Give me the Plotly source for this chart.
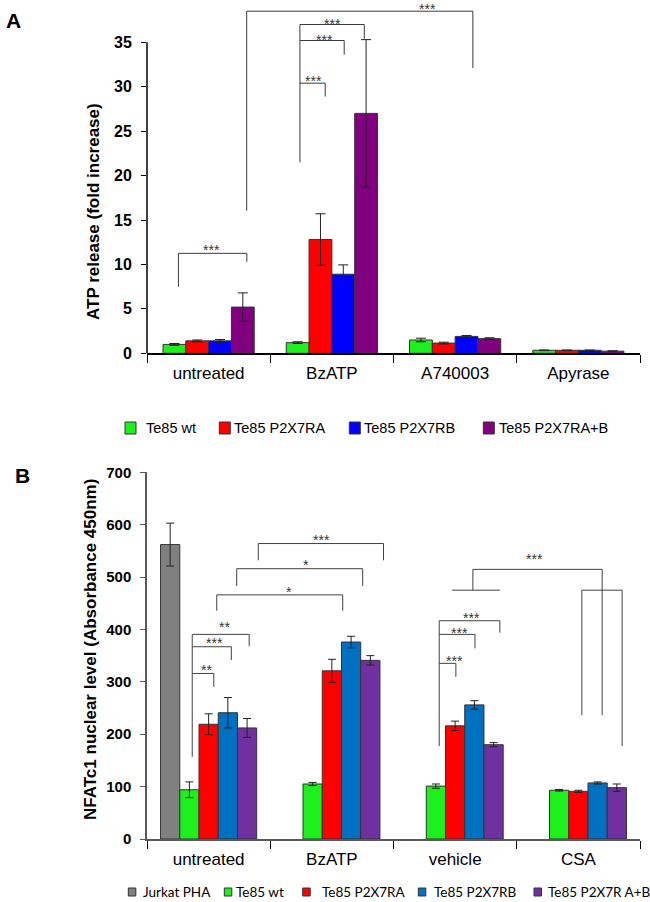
import plotly.graph_objects as go

# ---------------- data: panel A ----------------
cats_a = ["untreated", "BzATP", "A740003", "Apyrase"]
names_a = ["Te85 wt", "Te85 P2X7RA", "Te85 P2X7RB", "Te85 P2X7RA+B"]
wt_a = [1.0, 1.2, 1.5, 0.34]
wt_a_err = [0.1, 0.1, 0.2, 0.03]
ra_a = [1.4, 12.8, 1.15, 0.34]
ra_a_err = [0.1, 2.9, 0.1, 0.03]
rb_a = [1.4, 8.9, 1.9, 0.34]
rb_a_err = [0.15, 1.05, 0.1, 0.03]
rab_a = [5.2, 27.0, 1.65, 0.24]
rab_a_err = [1.6, 8.3, 0.1, 0.05]
ticks_a = [0, 5, 10, 15, 20, 25, 30, 35]

# ---------------- data: panel B ----------------
cats_b = ["untreated", "BzATP", "vehicle", "CSA"]
names_b = ["Jurkat PHA", "Te85 wt", "Te85 P2X7RA", "Te85 P2X7RB", "Te85 P2X7R A+B"]
jurkat_b = [562, None, None, None]
jurkat_b_err = [41, 0, 0, 0]
wt_b = [94, 105, 101, 93]
wt_b_err = [15, 3, 4, 1.5]
ra_b = [219, 321, 216, 91]
ra_b_err = [20, 22, 9, 2]
rb_b = [241, 376, 256, 107]
rb_b_err = [29, 11, 8, 2]
rab_b = [212, 341, 180, 98]
rab_b_err = [18, 9, 4, 7]
ticks_b = [0, 100, 200, 300, 400, 500, 600, 700]

# ---------------- styling / layout geometry ----------------
W, H = 650, 902
ML, MR, MT, MB = 147, 10, 4, 63
PW = W - ML - MR
PH = H - MT - MB


def px(x):
    return (x - ML) / PW


def py(y):
    return (H - MB - y) / PH


FONT = "Arial, Liberation Sans, sans-serif"
colors_a = ["#1ef01e", "#ff0000", "#0000ff", "#800080"]
colors_b = ["#808080", "#1ef01e", "#ff0000", "#0070c0", "#7030a0"]

fig = go.Figure()

# ---- panel A bars ----
vals_a = [wt_a, ra_a, rb_a, rab_a]
errs_a = [wt_a_err, ra_a_err, rb_a_err, rab_a_err]
na = len(vals_a)
group_a = 0.74
wa = group_a / na
for i, (nm, v, e, c) in enumerate(zip(names_a, vals_a, errs_a, colors_a)):
    fig.add_trace(go.Bar(
        x=cats_a, y=v, name=nm, xaxis="x", yaxis="y",
        width=wa, offset=-group_a / 2 + i * wa,
        marker=dict(color=c, line=dict(color="#333333", width=1)),
        error_y=dict(type="data", array=e, visible=True, color="#222222",
                     thickness=1, width=5),
        showlegend=False))

# ---- panel B bars ----
vals_b = [jurkat_b, wt_b, ra_b, rb_b, rab_b]
errs_b = [jurkat_b_err, wt_b_err, ra_b_err, rb_b_err, rab_b_err]
nb = len(vals_b)
group_b = 0.78
wb = group_b / nb
for i, (nm, v, e, c) in enumerate(zip(names_b, vals_b, errs_b, colors_b)):
    fig.add_trace(go.Bar(
        x=cats_b, y=v, name=nm, xaxis="x2", yaxis="y2",
        width=wb, offset=-group_b / 2 + i * wb,
        marker=dict(color=c, line=dict(color="#333333", width=1)),
        error_y=dict(type="data", array=e, visible=True, color="#222222",
                     thickness=1, width=4),
        showlegend=False))

shapes = []
annotations = []


def seg(points, xr, yr, color):
    for (x0, y0), (x1, y1) in zip(points[:-1], points[1:]):
        shapes.append(dict(type="line", xref=xr, yref=yr, x0=x0, y0=y0,
                           x1=x1, y1=y1, line=dict(color=color, width=1)))


def star(x, y, text, xr, yr, lift=4.5):
    annotations.append(dict(x=x, y=y, xref=xr, yref=yr, text=text,
                            showarrow=False, xanchor="center", yanchor="bottom",
                            yshift=lift - 12, font=dict(family=FONT, size=14, color="#333333")))


# ---- significance brackets, panel A ----
CA = "#3a3a3a"
seg([(-0.245, 7.5), (-0.245, 11.25), (0.310, 11.25), (0.310, 10.3)], "x", "y", CA)
star(0.025, 11.25, "***", "x", "y", 5)
seg([(0.309, 16.05), (0.309, 38.5), (2.144, 38.5), (2.144, 32.1)], "x", "y", CA)
star(1.773, 38.5, "***", "x", "y", 4)
seg([(0.741, 21.5), (0.741, 37.0), (1.263, 37.0), (1.263, 35.4)], "x", "y", CA)
star(1.004, 37.0, "***", "x", "y", 3)
seg([(0.741, 35.2), (1.10, 35.2), (1.10, 33.6)], "x", "y", CA)
star(0.937, 35.2, "***", "x", "y", 3)
seg([(0.741, 30.4), (0.946, 30.4), (0.946, 28.9)], "x", "y", CA)
star(0.852, 30.4, "***", "x", "y", 4)

# ---- significance brackets, panel B ----
CB = "#404040"
seg([(-0.133, 157), (-0.133, 390.6)], "x2", "y2", CB)
seg([(-0.133, 316), (0.042, 316), (0.042, 290.6)], "x2", "y2", CB)
star(-0.019, 316, "**", "x2", "y2", 5)
seg([(-0.133, 367), (0.184, 367), (0.184, 341.6)], "x2", "y2", CB)
star(0.049, 367, "***", "x2", "y2", 5.5)
seg([(-0.133, 390.6), (0.329, 390.6), (0.329, 368)], "x2", "y2", CB)
star(0.126, 390.6, "**", "x2", "y2", 9)
seg([(0.066, 435.7), (0.066, 466), (1.088, 466), (1.088, 435.7)], "x2", "y2", CB)
star(0.656, 466, "*", "x2", "y2", 5)
seg([(0.228, 483), (0.228, 516), (1.250, 516), (1.250, 483)], "x2", "y2", CB)
star(0.794, 516, "*", "x2", "y2", 5.5)
seg([(0.403, 532), (0.403, 564), (1.419, 564), (1.419, 532)], "x2", "y2", CB)
star(0.912, 564, "***", "x2", "y2", 6)
seg([(1.871, 177.5), (1.871, 416.6)], "x2", "y2", CB)
seg([(1.871, 416.6), (2.363, 416.6), (2.363, 393.7)], "x2", "y2", CB)
star(2.134, 416.6, "***", "x2", "y2", 4.5)
seg([(1.871, 390.6), (2.161, 390.6), (2.161, 364)], "x2", "y2", CB)
star(2.039, 390.6, "***", "x2", "y2", 3)
seg([(1.871, 335.3), (2.006, 335.3), (2.006, 309.7)], "x2", "y2", CB)
star(1.992, 335.3, "***", "x2", "y2", 4.5)
seg([(1.976, 475), (2.363, 475)], "x2", "y2", CB)
seg([(2.144, 475), (2.144, 514.7), (3.193, 514.7), (3.193, 236.6)], "x2", "y2", CB)
seg([(3.028, 236.6), (3.028, 475), (3.355, 475), (3.355, 177.5)], "x2", "y2", CB)
star(2.640, 514.7, "***", "x2", "y2", 12)

# ---- y axis line of panel A (only up to last tick) ----
shapes.append(dict(type="line", xref="x domain", yref="y", x0=0, x1=0,
                   y0=ticks_a[0], y1=ticks_a[-1], line=dict(color="#000000", width=1.5)))

# ---- axis titles and panel letters ----
annotations.append(dict(x=px(93), y=py(212), xref="paper", yref="paper",
                        text="ATP release (fold increase)", textangle=-90, showarrow=False,
                        xanchor="center", yanchor="middle",
                        font=dict(family=FONT, size=17, color="#000000", weight="bold")))
annotations.append(dict(x=px(90), y=py(650), xref="paper", yref="paper",
                        text="NFATc1 nuclear level (Absorbance 450nm)", textangle=-90,
                        showarrow=False, xanchor="center", yanchor="middle",
                        font=dict(family=FONT, size=17, color="#000000", weight="bold")))
annotations.append(dict(x=px(13.5), y=py(20.5), xref="paper", yref="paper", text="A",
                        showarrow=False, xanchor="center", yanchor="middle",
                        font=dict(family=FONT, size=21, color="#000000", weight="bold")))
annotations.append(dict(x=px(22), y=py(475.5), xref="paper", yref="paper", text="B",
                        showarrow=False, xanchor="center", yanchor="middle",
                        font=dict(family=FONT, size=21, color="#000000", weight="bold")))

# ---- custom legends ----
leg_a_sq = [125, 219.3, 349.3, 483.3]
leg_a_tx = [144.3, 231.7, 361.7, 497]
for nm, c, sx, tx in zip(names_a, colors_a, leg_a_sq, leg_a_tx):
    shapes.append(dict(type="rect", xref="paper", yref="paper",
                       x0=px(sx), x1=px(sx + 11), y0=py(434), y1=py(422),
                       fillcolor=c, line=dict(color="#333333", width=1)))
    annotations.append(dict(x=px(tx), y=py(428), xref="paper", yref="paper", text=nm,
                            showarrow=False, xanchor="left", yanchor="middle",
                            font=dict(family=FONT, size=14.5, color="#000000")))

leg_b_sq = [128.3, 224.3, 302.7, 418.3, 534]
leg_b_tx = [140.7, 234, 320, 431.7, 546]
for nm, c, sx, tx in zip(names_b, colors_b, leg_b_sq, leg_b_tx):
    shapes.append(dict(type="rect", xref="paper", yref="paper",
                       x0=px(sx), x1=px(sx + 7.5), y0=py(896), y1=py(888),
                       fillcolor=c, line=dict(color="#333333", width=1)))
    annotations.append(dict(x=px(tx), y=py(892), xref="paper", yref="paper", text=nm,
                            showarrow=False, xanchor="left", yanchor="middle",
                            font=dict(family="Lato, sans-serif", size=13.5, color="#000000")))

xaxis_common = dict(type="category", tickson="boundaries", ticks="outside", ticklen=8,
                    tickcolor="#000000", showline=True, linewidth=1.5, automargin=False,
                    tickfont=dict(family=FONT, size=17, color="#000000"),
                    showgrid=False, zeroline=False, ticklabelstandoff=4)

fig.update_layout(
    width=W, height=H,
    margin=dict(l=ML, r=MR, t=MT, b=MB, autoexpand=False),
    paper_bgcolor="white", plot_bgcolor="white",
    barmode="overlay",
    showlegend=False,
    xaxis=dict(domain=[0, 1], anchor="y", linecolor="#000000", **xaxis_common),
    yaxis=dict(domain=[py(353.3), 1], anchor="x", range=[0, (353.3 - MT) / 8.886],
               tickvals=ticks_a, ticks="outside", ticklen=5, tickcolor="#000000",
               showline=False, showgrid=False, zeroline=False, ticklabelstandoff=6,
               automargin=False,
               tickfont=dict(family=FONT, size=16, color="#000000", weight="bold")),
    xaxis2=dict(domain=[0, 1], anchor="y2", linecolor="#595959", **xaxis_common),
    yaxis2=dict(domain=[0, py(472.3)], anchor="x2", range=[0, 700],
                tickvals=ticks_b, ticks="outside", ticklen=5, tickcolor="#595959",
                showline=True, linecolor="#595959", linewidth=1.5, automargin=False,
                showgrid=False, zeroline=False, ticklabelstandoff=6,
                tickfont=dict(family=FONT, size=15, color="#000000", weight="bold")),
    shapes=shapes,
    annotations=annotations,
)

# remove the browser's default 8px page margin so the figure sits at the window's corner
fig.write_html("out.html", config={"displayModeBar": False},
               post_script="document.body.style.margin='0';document.body.style.overflow='hidden';")
